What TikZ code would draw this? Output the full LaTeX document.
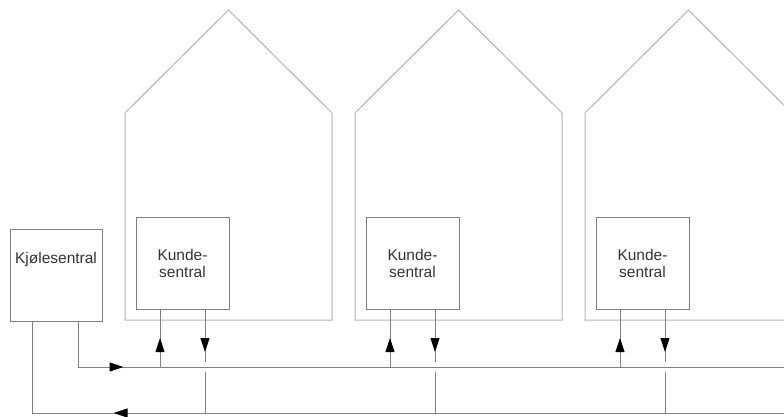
\documentclass[tikz,border=0pt]{standalone}
\usepackage{fontspec}
\setmainfont{Liberation Sans}
\usetikzlibrary{arrows.meta,decorations.markings}
\begin{document}
\begin{tikzpicture}[x=1pt,y=-1pt,
  house/.style={draw=black!30,line width=1pt},
  pipe/.style={draw=black!50,line width=1pt},
  txt/.style={font=\fontsize{15.5}{17.5}\selectfont,text=black!80,align=center},
  box/.style={draw=black!50,line width=1pt,minimum width=93pt,minimum height=92pt,inner sep=0pt,txt},
  tipat/.style={postaction={decorate},decoration={markings,
    mark=at position #1 with {\arrow[black]{Triangle[length=14pt,width=9pt]}}}},
  tipback/.style={postaction={decorate},decoration={markings,
    mark=at position #1 with {\arrowreversed[black]{Triangle[length=14pt,width=9pt]}}}}]
\useasboundingbox (0,0) rectangle (784,416);
\clip (0,0) rectangle (784,416);
% cooling plant and the two mains
\node[box,minimum width=92pt,label={[txt,yshift=16pt]center:Kjølesentral}] (kjole) at (56,275) {};
\coordinate (sE) at (784,367);
\coordinate (rE) at (784,413);
\draw[pipe,tipat=91pt] ([xshift=22pt]kjole.south) |- (sE);
\draw[pipe,tipback=173pt] ([xshift=-24pt]kjole.south) |- (rE);
% houses with customer stations
\foreach \i/\x in {1/125,2/355,3/585}{
  \draw[house] (\x,320) -- (\x,113) -- (\x+103.5,10) -- (\x+207,113) -- (\x+207,320) -- cycle;
  \node[box] (ku\i) at (\x+57.5,263.5) {Kunde-\\sentral};
  \coordinate (s\i) at (\x+35,367);
  \coordinate (r\i) at (\x+80,413);
  \draw[pipe,tipat=29pt] (s\i) -- (s\i |- ku\i.south);
  \draw[pipe,tipat=42pt] (r\i |- ku\i.south) -- ++(0,52);
  \draw[pipe] (r\i) -- ++(0,-41);
}
\end{tikzpicture}
\end{document}
